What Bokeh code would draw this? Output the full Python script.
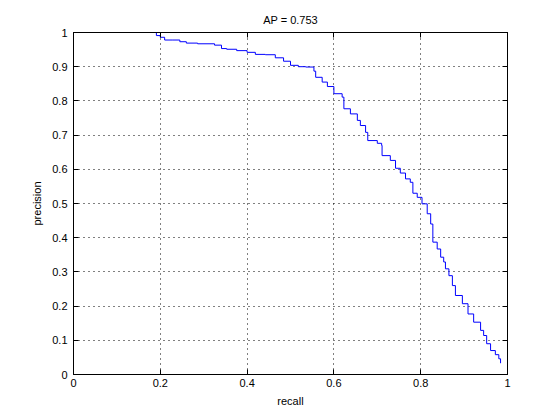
from bokeh.plotting import figure
from bokeh.models import Range1d, FixedTicker, LinearAxis
from bokeh.embed import file_html
from bokeh.resources import INLINE

recall = [0.191, 0.191, 0.200, 0.210, 0.229, 0.245, 0.260, 0.286, 0.325, 0.341, 0.353,
          0.376, 0.400, 0.419, 0.442, 0.465, 0.484, 0.500, 0.518, 0.535, 0.554, 0.558,
          0.573, 0.585, 0.600, 0.619, 0.623, 0.638, 0.654, 0.661, 0.673, 0.678, 0.700,
          0.710, 0.711, 0.730, 0.742, 0.753, 0.765, 0.776, 0.782, 0.792, 0.803, 0.815,
          0.823, 0.828, 0.838, 0.846, 0.853, 0.857, 0.865, 0.873, 0.880, 0.896, 0.909,
          0.922, 0.938, 0.945, 0.952, 0.961, 0.972, 0.980, 0.984]
precision = [1.000, 0.991, 0.986, 0.978, 0.978, 0.973, 0.969, 0.967, 0.963, 0.953, 0.951,
             0.947, 0.942, 0.936, 0.935, 0.926, 0.916, 0.904, 0.900, 0.899, 0.887, 0.869,
             0.855, 0.842, 0.821, 0.811, 0.777, 0.762, 0.743, 0.728, 0.708, 0.684, 0.676,
             0.670, 0.640, 0.626, 0.603, 0.589, 0.572, 0.562, 0.530, 0.518, 0.499, 0.470,
             0.440, 0.387, 0.367, 0.343, 0.329, 0.309, 0.289, 0.260, 0.231, 0.207, 0.177,
             0.153, 0.129, 0.114, 0.090, 0.070, 0.058, 0.046, 0.033]

tick_values = [0, 0.1, 0.2, 0.3, 0.4, 0.5, 0.6, 0.7, 0.8, 0.9, 1.0]
tick_labels = ["0", "0.1", "0.2", "0.3", "0.4", "0.5", "0.6", "0.7", "0.8", "0.9", "1"]
x_tick_values = [0, 0.2, 0.4, 0.6, 0.8, 1.0]
x_tick_labels = ["0", "0.2", "0.4", "0.6", "0.8", "1"]

FONT = "Liberation Sans"

p = figure(width=552, height=412, output_backend="svg", toolbar_location=None,
           x_range=Range1d(0, 1), y_range=Range1d(0, 1),
           min_border_left=73, min_border_right=45, min_border_top=32, min_border_bottom=38,
           title="AP = 0.753")
p.title.align = "center"
p.title.vertical_align = "top"
p.title.text_font = FONT
p.title.text_font_size = "11px"
p.title.text_font_style = "normal"
p.title.text_color = "black"
p.background_fill_color = "white"
p.border_fill_color = "white"
p.outline_line_color = "black"

p.step(recall, precision, mode="after", line_color="#0000ff", line_width=1)

def style_axis(ax, ticks, labels, show_labels=True):
    ax.ticker = FixedTicker(ticks=ticks)
    ax.major_label_overrides = {t: l for t, l in zip(ticks, labels)}
    ax.major_tick_in = 5
    ax.major_tick_out = 0
    ax.minor_tick_in = 0
    ax.minor_tick_out = 0
    ax.axis_line_color = "black"
    ax.major_tick_line_color = "black"
    ax.major_label_text_font = FONT
    ax.major_label_text_font_size = "11px"
    ax.major_label_text_color = "black"
    ax.axis_label_text_font = FONT
    ax.axis_label_text_font_size = "11px"
    ax.axis_label_text_font_style = "normal"
    ax.axis_label_text_color = "black"
    if not show_labels:
        ax.major_label_text_alpha = 0
        ax.major_label_text_font_size = "0px"

style_axis(p.xaxis[0], x_tick_values, x_tick_labels)
style_axis(p.yaxis[0], tick_values, tick_labels)
p.xaxis[0].axis_label = "recall"
p.yaxis[0].axis_label = "precision"
p.xaxis[0].major_label_standoff = 4
p.yaxis[0].major_label_standoff = 6
p.xaxis[0].axis_label_standoff = 5
p.yaxis[0].axis_label_standoff = 6

top = LinearAxis()
style_axis(top, x_tick_values, x_tick_labels, show_labels=False)
p.add_layout(top, "above")
right = LinearAxis()
style_axis(right, tick_values, tick_labels, show_labels=False)
p.add_layout(right, "right")

p.xgrid.ticker = FixedTicker(ticks=x_tick_values)
p.ygrid.ticker = FixedTicker(ticks=tick_values)
for g in (p.xgrid[0], p.ygrid[0]):
    g.grid_line_color = "black"
    g.grid_line_dash = "1 4"
    g.grid_line_width = 1

open("out.html", "w").write(file_html(p, INLINE))
